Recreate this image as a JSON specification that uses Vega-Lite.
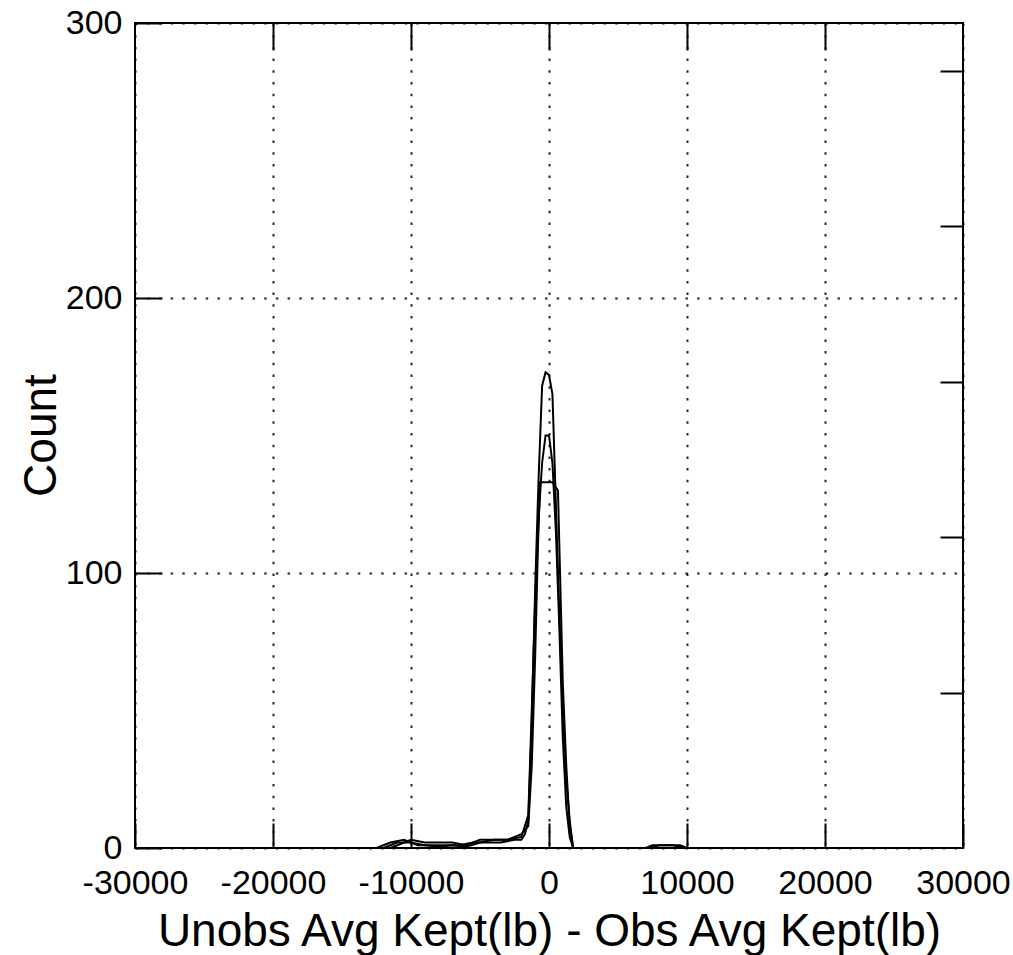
{
  "$schema": "https://vega.github.io/schema/vega-lite/v6.json",
  "width": 828,
  "height": 825,
  "autosize": {"type": "none"},
  "padding": {"left": 135, "top": 23, "right": 50, "bottom": 107},
  "background": "white",
  "config": {
    "font": "Liberation Sans",
    "view": {"stroke": "black", "strokeWidth": 2},
    "axis": {
      "labelColor": "black",
      "titleColor": "black",
      "tickColor": "black",
      "tickWidth": 2,
      "domain": false,
      "labelFontSize": 34,
      "titleFontSize": 46,
      "titleFontWeight": "normal",
      "labelFlush": false,
      "labelOverlap": false,
      "gridColor": "black",
      "gridOpacity": 0.85,
      "gridWidth": 2,
      "gridDash": [2.5, 9.2]
    }
  },
  "data": {
    "values": [
      {"series": "a", "x": -12500, "count": 0},
      {"series": "a", "x": -11500, "count": 2},
      {"series": "a", "x": -10500, "count": 3},
      {"series": "a", "x": -9500, "count": 1},
      {"series": "a", "x": -8500, "count": 1},
      {"series": "a", "x": -7500, "count": 1},
      {"series": "a", "x": -6500, "count": 1},
      {"series": "a", "x": -5500, "count": 2},
      {"series": "a", "x": -4500, "count": 2},
      {"series": "a", "x": -3500, "count": 2},
      {"series": "a", "x": -2500, "count": 3},
      {"series": "a", "x": -2000, "count": 3},
      {"series": "a", "x": -1750, "count": 5},
      {"series": "a", "x": -1500, "count": 10},
      {"series": "a", "x": -1250, "count": 45},
      {"series": "a", "x": -1000, "count": 95},
      {"series": "a", "x": -750, "count": 135},
      {"series": "a", "x": -500, "count": 168},
      {"series": "a", "x": -250, "count": 173},
      {"series": "a", "x": 0, "count": 172},
      {"series": "a", "x": 250, "count": 165},
      {"series": "a", "x": 500, "count": 125},
      {"series": "a", "x": 750, "count": 85},
      {"series": "a", "x": 1000, "count": 50},
      {"series": "a", "x": 1250, "count": 25},
      {"series": "a", "x": 1500, "count": 10},
      {"series": "a", "x": 1750, "count": 0},
      {"series": "a", "x": 7000, "count": 0},
      {"series": "a", "x": 7500, "count": 1},
      {"series": "a", "x": 8500, "count": 1},
      {"series": "a", "x": 9500, "count": 1},
      {"series": "a", "x": 10000, "count": 0},
      {"series": "b", "x": -12000, "count": 0},
      {"series": "b", "x": -11000, "count": 2},
      {"series": "b", "x": -10000, "count": 2},
      {"series": "b", "x": -9000, "count": 1},
      {"series": "b", "x": -8000, "count": 0.5},
      {"series": "b", "x": -7000, "count": 1},
      {"series": "b", "x": -6000, "count": 0.5},
      {"series": "b", "x": -5000, "count": 2},
      {"series": "b", "x": -4000, "count": 3},
      {"series": "b", "x": -3000, "count": 3},
      {"series": "b", "x": -2500, "count": 4},
      {"series": "b", "x": -2000, "count": 5},
      {"series": "b", "x": -1500, "count": 8},
      {"series": "b", "x": -1250, "count": 30},
      {"series": "b", "x": -1000, "count": 70},
      {"series": "b", "x": -800, "count": 110},
      {"series": "b", "x": -650, "count": 133},
      {"series": "b", "x": -250, "count": 133},
      {"series": "b", "x": 250, "count": 133},
      {"series": "b", "x": 650, "count": 130},
      {"series": "b", "x": 800, "count": 100},
      {"series": "b", "x": 1000, "count": 60},
      {"series": "b", "x": 1250, "count": 30},
      {"series": "b", "x": 1500, "count": 8},
      {"series": "b", "x": 1750, "count": 0},
      {"series": "b", "x": 7200, "count": 0},
      {"series": "b", "x": 8000, "count": 1},
      {"series": "b", "x": 9000, "count": 1},
      {"series": "b", "x": 9800, "count": 0},
      {"series": "c", "x": -11500, "count": 0},
      {"series": "c", "x": -11000, "count": 1},
      {"series": "c", "x": -10000, "count": 3},
      {"series": "c", "x": -9000, "count": 2},
      {"series": "c", "x": -8000, "count": 2},
      {"series": "c", "x": -7000, "count": 2},
      {"series": "c", "x": -6000, "count": 1},
      {"series": "c", "x": -5000, "count": 3},
      {"series": "c", "x": -4000, "count": 3},
      {"series": "c", "x": -3000, "count": 3},
      {"series": "c", "x": -2000, "count": 4},
      {"series": "c", "x": -1500, "count": 12},
      {"series": "c", "x": -1250, "count": 50},
      {"series": "c", "x": -1000, "count": 90},
      {"series": "c", "x": -750, "count": 120},
      {"series": "c", "x": -500, "count": 140},
      {"series": "c", "x": -250, "count": 150},
      {"series": "c", "x": 0, "count": 150},
      {"series": "c", "x": 250, "count": 140},
      {"series": "c", "x": 500, "count": 115},
      {"series": "c", "x": 750, "count": 80},
      {"series": "c", "x": 1000, "count": 40},
      {"series": "c", "x": 1250, "count": 15},
      {"series": "c", "x": 1500, "count": 4},
      {"series": "c", "x": 1750, "count": 0}
    ]
  },
  "layer": [
    {
      "mark": {"type": "line", "color": "black", "strokeWidth": 2, "clip": true},
      "encoding": {
        "x": {
          "field": "x", "type": "quantitative",
          "scale": {"domain": [-30000, 30000], "nice": false, "zero": false},
          "axis": {
            "orient": "bottom",
            "title": "Unobs Avg Kept(lb) - Obs Avg Kept(lb)",
            "values": [-30000, -20000, -10000, 0, 10000, 20000, 30000],
            "labelExpr": "'' + datum.value",
            "tickSize": -25,
            "labelPadding": 43,
            "grid": true,
            "titleBaseline": "alphabetic",
            "titleY": 97
          }
        },
        "y": {
          "field": "count", "type": "quantitative",
          "scale": {"domain": [0, 300], "nice": false},
          "axis": {
            "orient": "left",
            "title": "Count",
            "values": [0, 100, 200, 300],
            "labelExpr": "'' + datum.value",
            "tickSize": -27,
            "labelPadding": 40,
            "grid": true,
            "titleBaseline": "alphabetic",
            "titleX": -80,
            "titleY": 412
          }
        },
        "detail": {"field": "series"}
      }
    },
    {
      "mark": {"type": "line", "strokeOpacity": 0},
      "encoding": {
        "x": {
          "field": "x", "type": "quantitative",
          "scale": {"domain": [-30000, 30000], "nice": false, "zero": false},
          "axis": {
            "orient": "top",
            "title": null,
            "labels": false,
            "grid": false,
            "values": [-20000, -10000, 0, 10000, 20000],
            "tickSize": -27
          }
        },
        "y": {
          "field": "count", "type": "quantitative",
          "scale": {"domain": [0, 300], "nice": false},
          "axis": {
            "orient": "right",
            "title": null,
            "labels": false,
            "grid": false,
            "values": [56.5, 113, 169.6, 226.1, 282.6],
            "tickSize": -23
          }
        },
        "detail": {"field": "series"}
      }
    }
  ],
  "resolve": {"scale": {"x": "independent", "y": "independent"}}
}
